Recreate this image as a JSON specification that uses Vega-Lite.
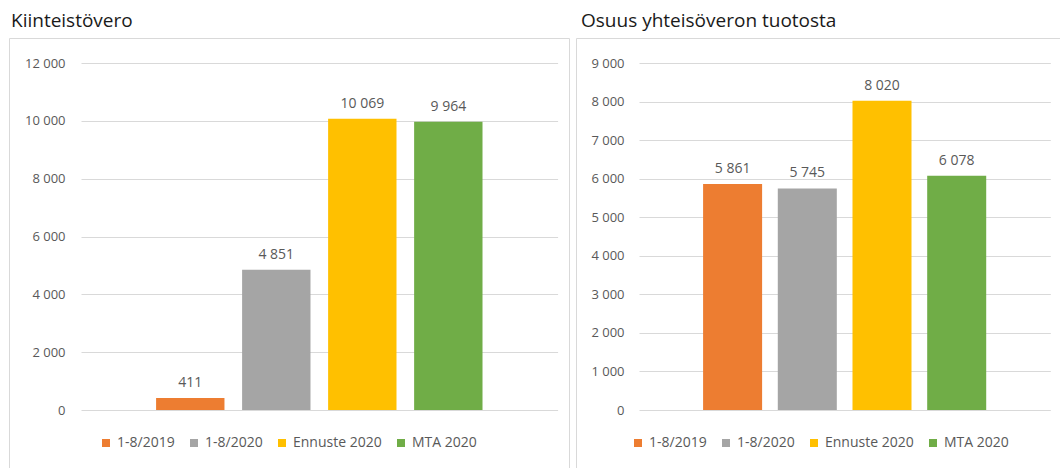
{
  "$schema": "https://vega.github.io/schema/vega-lite/v6.json",
  "padding": {"left": 8, "top": 11, "right": 0, "bottom": 0},
  "autosize": {"type": "pad"},
  "background": "white",
  "spacing": 5,
  "config": {
    "locale": {"number": {"decimal": ",", "thousands": " ", "grouping": [3], "currency": ["", " €"]}},
    "font": "Open Sans",
    "view": {"stroke": "#d9d9d9", "strokeWidth": 1},
    "axisY": {
      "grid": true, "gridColor": "#d9d9d9", "gridWidth": 1.2,
      "domain": false, "ticks": false, "tickSize": 0,
      "labelFont": "Open Sans", "labelFontSize": 13, "labelColor": "#595959",
      "labelPadding": 4, "title": null, "format": ",d"
    },
    "title": {"anchor": "start", "frame": "group", "fontSize": 19, "fontWeight": "normal", "color": "#1a1a1a", "baseline": "alphabetic", "offset": 7, "font": "Open Sans"},
    "legend": {
      "orient": "none", "direction": "horizontal", "title": null,
      "symbolType": "square", "symbolSize": 64, "symbolStrokeWidth": 0,
      "labelFont": "Open Sans", "labelFontSize": 14, "labelColor": "#595959",
      "labelOffset": 4, "columnPadding": 12, "padding": 0
    }
  },
  "resolve": {"scale": {"color": "independent"}, "legend": {"color": "independent"}},
  "hconcat": [
    {
      "title": {"text": "Kiinteistövero", "dx": 2},
      "width": 560,
      "height": 434,
      "data": {"values": [
        {"sarja": "1-8/2019", "arvo": 411},
        {"sarja": "1-8/2020", "arvo": 4851},
        {"sarja": "Ennuste 2020", "arvo": 10069},
        {"sarja": "MTA 2020", "arvo": 9964}
      ]},
      "encoding": {
        "x": {"field": "sarja", "type": "nominal", "sort": null, "axis": null,
              "scale": {"range": [72, 548.6], "paddingInner": 0.205, "paddingOuter": 0.873}},
        "y": {"field": "arvo", "type": "quantitative",
              "scale": {"domain": [0, 12000], "range": [372, 25], "nice": false},
              "axis": {"values": [0, 2000, 4000, 6000, 8000, 10000, 12000], "offset": -60}}
      },
      "layer": [
        {
          "mark": {"type": "bar"},
          "encoding": {
            "color": {"field": "sarja", "type": "nominal",
                      "scale": {"domain": ["1-8/2019", "1-8/2020", "Ennuste 2020", "MTA 2020"], "range": ["#ED7D31", "#A5A5A5", "#FFC000", "#70AD47"]},
                      "legend": {"legendX": 90, "legendY": 398}}
          }
        },
        {
          "mark": {"type": "text", "baseline": "alphabetic", "dy": -11, "fontSize": 14, "color": "#595959", "font": "Open Sans"},
          "encoding": {"text": {"field": "arvo", "type": "quantitative", "format": ",d"}}
        }
      ]
    },
    {
      "title": {"text": "Osuus yhteisöveron tuotosta", "dx": 5},
      "width": 486,
      "height": 434,
      "data": {"values": [
        {"sarja": "1-8/2019", "arvo": 5861},
        {"sarja": "1-8/2020", "arvo": 5745},
        {"sarja": "Ennuste 2020", "arvo": 8020},
        {"sarja": "MTA 2020", "arvo": 6078}
      ]},
      "encoding": {
        "x": {"field": "sarja", "type": "nominal", "sort": null, "axis": null,
              "scale": {"range": [63, 474.3], "paddingInner": 0.21, "paddingOuter": 0.858}},
        "y": {"field": "arvo", "type": "quantitative",
              "scale": {"domain": [0, 9000], "range": [372, 25], "nice": false},
              "axis": {"values": [0, 1000, 2000, 3000, 4000, 5000, 6000, 7000, 8000, 9000], "offset": -52}}
      },
      "layer": [
        {
          "mark": {"type": "bar"},
          "encoding": {
            "color": {"field": "sarja", "type": "nominal",
                      "scale": {"domain": ["1-8/2019", "1-8/2020", "Ennuste 2020", "MTA 2020"], "range": ["#ED7D31", "#A5A5A5", "#FFC000", "#70AD47"]},
                      "legend": {"legendX": 55, "legendY": 398}}
          }
        },
        {
          "mark": {"type": "text", "baseline": "alphabetic", "dy": -11, "fontSize": 14, "color": "#595959", "font": "Open Sans"},
          "encoding": {"text": {"field": "arvo", "type": "quantitative", "format": ",d"}}
        }
      ]
    }
  ]
}
